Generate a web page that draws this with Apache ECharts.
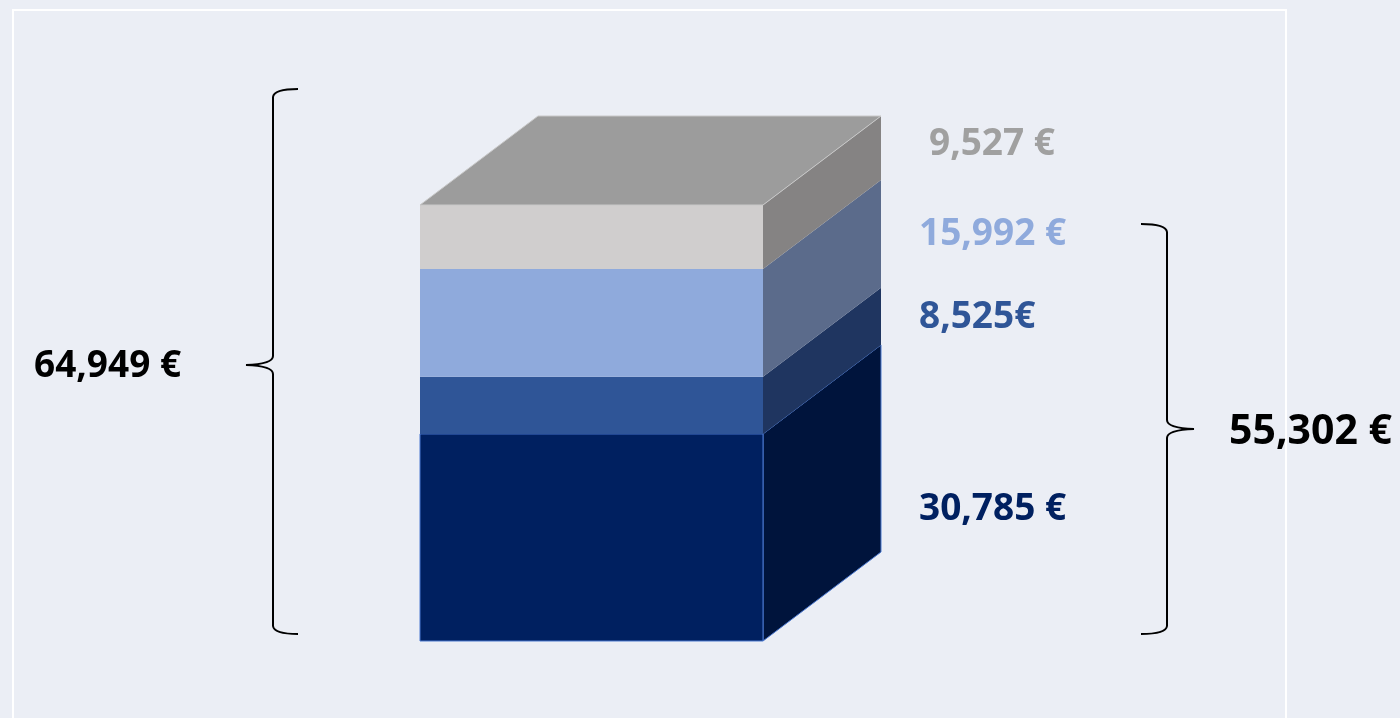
<!DOCTYPE html>
<html>
<head>
<meta charset="utf-8">
<script src="https://cdn.jsdelivr.net/npm/echarts@6/dist/echarts.min.js"></script>
<style>
html, body { margin: 0; padding: 0; background: #ebeef5; }
#chart { width: 1400px; height: 718px; }
</style>
</head>
<body>
<div id="chart"></div>
<script>
// segments from bottom to top
const segmentNames = ['A', 'B', 'C', 'D']
const segmentValues = [30785, 8525, 15992, 9527]
const segmentLabels = ['30,785 €', '8,525€', '15,992 €', '9,527 €']
const subtotalLabel = '55,302 €'   // first three segments
const totalLabel = '64,949 €'

const frontColors = ['#002060', '#2f5597', '#8faadc', '#d0cece']
const sideColors = ['#00143c', '#1f3560', '#5b6b8b', '#858383']
const textColors = ['#002060', '#2f5597', '#8faadc', '#a0a0a0']
const topColor = '#9c9c9c'
const depthX = 118
const depthY = -89
const font = 'bold 37px "Noto Sans", sans-serif'

let total = segmentValues.reduce((a, b) => a + b, 0)
let items = []
let acc = 0
segmentValues.forEach((v, i) => {
  items.push([0, acc, acc + v, i])
  acc += v
})

function renderItem(params, api) {
  let i = api.value(3)
  let lo = api.coord([api.value(0), api.value(1)])
  let hi = api.coord([api.value(0), api.value(2)])
  let w = api.size([1, 0])[0]
  let x0 = lo[0] - w / 2
  let x1 = lo[0] + w / 2
  let children = [
    {
      type: 'polygon',
      shape: { points: [[x1, lo[1]], [x1, hi[1]], [x1 + depthX, hi[1] + depthY], [x1 + depthX, lo[1] + depthY]] },
      style: i === 0 ? { fill: sideColors[i], stroke: '#4a78d0', lineWidth: 1 } : { fill: sideColors[i] }
    },
    {
      type: 'rect',
      shape: { x: x0, y: hi[1], width: w, height: lo[1] - hi[1] },
      style: i === 0 ? { fill: frontColors[i], stroke: '#4a78d0', lineWidth: 1 } : { fill: frontColors[i] }
    }
  ]
  if (i === segmentValues.length - 1) {
    children.push({
      type: 'polygon',
      shape: { points: [[x0, hi[1]], [x1, hi[1]], [x1 + depthX, hi[1] + depthY], [x0 + depthX, hi[1] + depthY]] },
      style: { fill: topColor, stroke: '#c8c8c8', lineWidth: 1 }
    })
  }
  return { type: 'group', children }
}

// curly braces (pixel paths)
function renderBraces() {
  let line = { fill: 'none', stroke: '#000', lineWidth: 2 }
  return {
    type: 'group',
    children: [
      { type: 'path', shape: { pathData: 'M298,89 Q274,89 273,97 L273,356 Q273,364 246,365 Q273,366 273,374 L273,626 Q274,634 298,634' }, style: line },
      { type: 'path', shape: { pathData: 'M1141,224 Q1166,224 1167,232 L1167,420 Q1167,428 1194,429 Q1167,430 1167,438 L1167,626 Q1166,634 1141,634' }, style: line }
    ]
  }
}

// label anchor positions (pixels), bottom to top
const labelPos = [[919, 509], [919, 317], [919, 234], [929, 144]]

let graphics = [
  {
    type: 'rect',
    shape: { x: 13, y: 10, width: 1273, height: 720 },
    style: { fill: 'none', stroke: '#ffffff', lineWidth: 2 },
    z: -1
  },
  {
    type: 'text', x: 34, y: 366,
    style: { text: totalLabel, font, fill: '#000', align: 'left', verticalAlign: 'middle' }
  },
  {
    type: 'text', x: 1229, y: 432,
    style: { text: subtotalLabel, font: 'bold 41px "Noto Sans", sans-serif', fill: '#000', align: 'left', verticalAlign: 'middle' }
  }
]
segmentLabels.forEach((t, i) => {
  graphics.push({
    type: 'text', x: labelPos[i][0], y: labelPos[i][1],
    style: { text: t, font, fill: textColors[i], align: 'left', verticalAlign: 'middle' }
  })
})

let chart = echarts.init(document.getElementById('chart'))
chart.setOption({
  backgroundColor: '#ebeef5',
  animation: false,
  grid: { left: 420, width: 343, top: 205, bottom: 77 },
  xAxis: { type: 'category', data: ['total'], show: false },
  yAxis: { type: 'value', min: 0, max: total, show: false },
  series: [
    {
      type: 'custom',
      renderItem,
      data: items,
      encode: { x: 0, y: [1, 2] }
    },
    {
      type: 'custom',
      renderItem: renderBraces,
      data: [[0, 0]],
      silent: true
    }
  ],
  graphic: graphics
})
</script>
</body>
</html>
